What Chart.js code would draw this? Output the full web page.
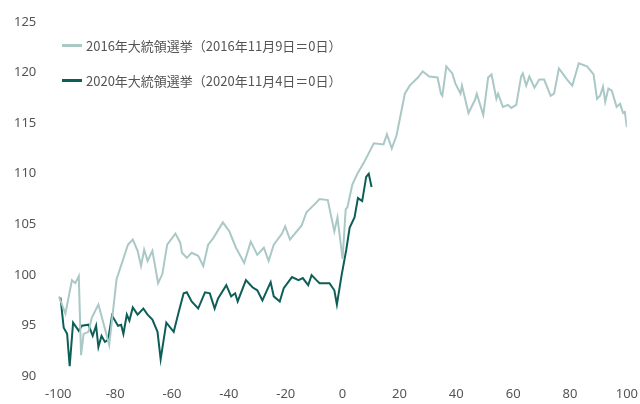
<!DOCTYPE html>
<html><head><meta charset="utf-8">
<script src="https://cdn.jsdelivr.net/npm/chart.js@4"></script>
<style>
body{margin:0;background:#fff;font-family:"Noto Sans CJK JP","Noto Sans",sans-serif}
#w{position:relative;width:640px;height:404px}
.lg{position:absolute;left:62px;font-size:13px;color:#555;display:flex;align-items:center}
.lg span.l{display:inline-block;width:20px;height:3px;margin-right:4px}
</style></head><body>
<div id="w"><canvas id="c" width="640" height="404"></canvas>
<div class="lg" style="top:36px"><span class="l" style="background:#a9c8c6"></span>2016年大統領選挙（2016年11月9日＝0日）</div>
<div class="lg" style="top:71px"><span class="l" style="background:#0e5e58"></span>2020年大統領選挙（2020年11月4日＝0日）</div>
</div>
<script>
const days2016=[-99.8,-97.5,-95.2,-94,-92.8,-92,-91.1,-89.4,-88.2,-85.9,-83.6,-82.1,-79.5,-75.5,-73.8,-72.1,-70.9,-69.8,-68.6,-66.9,-64.9,-63.4,-61.7,-58.8,-57.1,-56.5,-54.8,-53.1,-50.8,-49,-47.3,-45.6,-42.1,-39.8,-37.5,-34.6,-32.3,-30,-27.7,-26,-24.2,-21.3,-20.2,-18.5,-14.4,-12.7,-9.8,-8.1,-5.2,-2.9,-1.8,0,1.1,1.7,3.4,5.2,7.5,11,14.4,15.6,17.3,19,21.9,23.6,26.5,28.2,30.5,33.4,34.6,35.1,36.5,38.6,39.7,41.5,42,44.3,46.6,47.2,49.5,51.2,52.4,54.1,54.7,56.4,58.2,59.3,61.1,62.8,63.4,64.6,65.7,67.5,69.2,70.9,73.2,74.4,76.1,79,80.8,83.1,86,88.3,89.5,90.6,91.6,92.4,93.5,94.7,96.4,97.6,98.7,99.3,100];
const vals2016=[97.9,96.2,99.5,99.2,99.9,92.1,94.2,94.4,95.8,97.1,94.7,93.1,99.6,103,103.5,102.4,100.9,102.5,101.4,102.4,99.2,100.1,103,104.1,103.2,102.2,101.7,102.2,101.9,100.9,103,103.6,105.2,104.3,102.7,101.2,103.3,102,102.7,101.4,103,104.1,104.8,103.5,104.9,106.2,107,107.5,107.4,104.3,105.7,101.6,106.5,106.7,108.9,110,111.1,113,112.9,113.9,112.5,113.8,117.9,118.7,119.5,120.1,119.6,119.5,117.9,117.7,120.6,119.9,118.9,117.9,118.7,116,117.3,117.9,115.8,119.5,119.8,117.4,117.9,116.6,116.8,116.5,116.8,119.6,119.9,118.7,119.6,118.5,119.3,119.3,117.7,117.9,120.4,119.3,118.7,120.9,120.6,119.8,117.4,117.7,118.6,117.1,118.4,118.2,116.6,116.9,116,116.1,114.6];
const days2020=[-99.8,-99.2,-98.1,-96.9,-96,-94.8,-92.8,-91.7,-89.4,-87.9,-86.7,-85.9,-84.8,-83.6,-82.5,-81.1,-79,-77.9,-77.1,-75.9,-75,-73.8,-72.1,-70.1,-68.6,-66.9,-65.1,-64,-62,-59.4,-57.6,-55.9,-54.8,-53.1,-50.8,-48.4,-46.7,-45,-43.8,-40.9,-39.2,-37.8,-36.9,-34,-31.7,-30,-28.2,-25.3,-24.2,-22.1,-20.7,-17.8,-15.5,-14,-12.1,-10.9,-9.2,-8.1,-4.6,-2.9,-2,-0.4,1.3,2.5,4.2,5.4,6.9,8.3,9.2,10.2];
const vals2020=[97.7,97.7,94.8,94.2,91,95.3,94.5,95,95.1,94,95,92.9,94,93.4,93.6,96,95,95.1,94.2,96.1,95.5,96.8,96.1,96.7,96.1,95.6,94.4,91.7,95.3,94.4,96.4,98.2,98.3,97.4,96.7,98.3,98.2,96.7,97.7,99,97.9,98.2,97.4,99.5,98.8,98.5,97.5,99.3,97.9,97.4,98.7,99.8,99.5,99.7,99,100,99.5,99.2,99.2,98.5,97.1,99.9,102.5,104.7,105.7,107.6,107.3,109.7,110,108.7];
const yTicks=[90,95,100,105,110,115,120,125];
const xTicks=[-100,-80,-60,-40,-20,0,20,40,60,80,100];
const pts=(d,v)=>d.map((x,i)=>({x,y:v[i]}));
new Chart(document.getElementById('c'),{type:'line',
data:{datasets:[
{data:pts(days2016,vals2016),borderColor:'#a9c8c6',borderWidth:2,pointRadius:0,tension:0},
{data:pts(days2020,vals2020),borderColor:'#0e5e58',borderWidth:2,pointRadius:0,tension:0}]},
options:{responsive:false,animation:false,layout:{padding:{left:0,right:10,top:5,bottom:0}},
plugins:{legend:{display:false},tooltip:{enabled:false}},
scales:{
x:{type:'linear',min:-100,max:100,grid:{display:false},border:{display:false},
 afterBuildTicks:s=>{s.ticks=xTicks.map(v=>({value:v}))},
 ticks:{color:'#555',font:{size:13,family:'Noto Sans'},maxRotation:0,padding:2}},
y:{min:90,max:125,grid:{display:false},border:{display:false},
 afterBuildTicks:s=>{s.ticks=yTicks.map(v=>({value:v}))},
 ticks:{color:'#555',font:{size:13,family:'Noto Sans'},padding:14}}}}});
</script></body></html>
